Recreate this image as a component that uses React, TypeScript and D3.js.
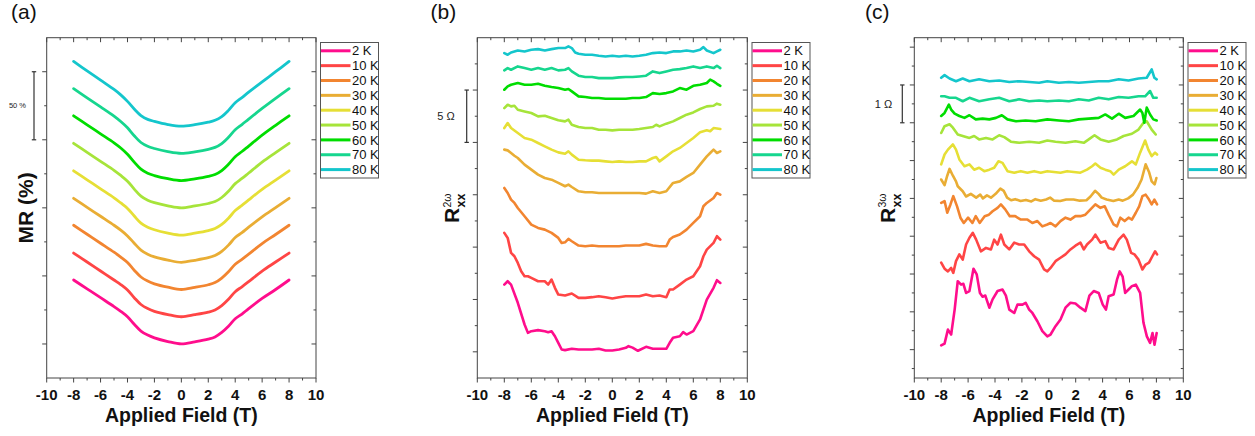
import React from 'react';
import * as d3 from 'd3';

// ---- data ----
const temps = ['2 K', '10 K', '20 K', '30 K', '40 K', '50 K', '60 K', '70 K', '80 K'];
const colors = ['#ff0d8c', '#ff4545', '#f28530', '#e9ad34', '#e6df35', '#a6e43a', '#00dd00', '#16d68e', '#14c6cc'];

const fieldMajor = [-10, -8, -6, -4, -2, 0, 2, 4, 6, 8, 10];
const fieldMinor = [-9, -7, -5, -3, -1, 1, 3, 5, 7, 9];

// (a) magnetoresistance, %, curves shifted by offsetsA
const fieldsA = [-8, -7, -6, -5, -4.5, -4, -3.5, -3, -2.5, -2, -1, 0, 1, 2, 2.5, 3, 3.5, 4, 4.5, 5, 6, 7, 8];
const mrA2K = [47.0, 40.5, 34.0, 27.5, 24.0, 20.0, 14.5, 9.5, 6.5, 4.5, 1.8, 0, 1.6, 3.6, 5.2, 8.5, 13.0, 18.5, 22.0, 26.0, 33.5, 40.0, 47.0];
const mrA10K = [46.8, 40.2, 33.6, 27.0, 23.6, 19.6, 14.0, 9.0, 6.0, 4.0, 1.6, 0, 1.5, 3.4, 5.0, 8.2, 12.8, 18.4, 22.0, 25.8, 33.6, 40.2, 46.8];
const mrA20K = [47.2, 40.6, 34.0, 27.4, 23.8, 19.8, 14.2, 9.2, 6.2, 4.2, 1.7, 0, 1.6, 3.5, 5.1, 8.4, 13.0, 18.6, 22.2, 26.0, 33.8, 40.4, 47.2];
const mrA30K = [47.0, 40.4, 33.8, 27.2, 23.6, 19.4, 14.0, 9.0, 6.0, 4.0, 1.6, 0, 1.5, 3.4, 5.0, 8.0, 12.6, 18.2, 21.8, 25.8, 33.4, 40.2, 47.0];
const mrA40K = [47.2, 40.6, 34.0, 27.4, 23.6, 19.6, 14.0, 8.8, 5.8, 3.9, 1.5, 0, 1.4, 3.3, 4.8, 7.8, 12.4, 18.0, 21.8, 25.8, 33.6, 40.4, 47.2];
const mrA50K = [47.4, 40.8, 34.2, 27.6, 23.8, 19.6, 13.8, 8.6, 5.6, 3.8, 1.5, 0, 1.4, 3.2, 4.6, 7.6, 12.2, 17.8, 21.6, 25.6, 33.6, 40.6, 47.4];
const mrA60K = [47.6, 41.0, 34.4, 27.8, 24.0, 19.4, 13.6, 8.4, 5.4, 3.7, 1.4, 0, 1.3, 3.1, 4.5, 7.4, 12.0, 17.6, 21.4, 25.4, 33.4, 40.6, 47.6];
const mrA70K = [47.6, 40.8, 34.2, 27.4, 23.4, 18.8, 13.0, 8.0, 5.2, 3.6, 1.3, 0, 1.2, 3.0, 4.4, 7.2, 11.8, 17.4, 21.2, 25.2, 33.0, 40.4, 47.6];
const mrA80K = [47.6, 40.6, 33.8, 27.0, 23.0, 18.2, 12.6, 7.8, 5.0, 3.5, 1.2, 0, 1.1, 2.9, 4.3, 7.0, 11.6, 17.2, 21.0, 25.0, 32.6, 40.0, 47.6];
const offsetsA = [0, 20, 40, 60, 80, 100, 120, 140, 160];

// (b) second harmonic, ohm (already offset as plotted)
const r2w2K = [[-8, 6.42], [-7.75, 6.74], [-7.5, 6.42], [-7, 4.68], [-6.5, 2.61], [-6.25, 1.81], [-6, 1.97], [-5.5, 2.07], [-5, 1.97], [-4.75, 1.88], [-4.5, 1.97], [-4.25, 1.49], [-4, 0.86], [-3.75, 0.22], [-3.5, 0.16], [-3, 0.29], [-2.5, 0.22], [-2, 0.22], [-1.5, 0.22], [-1, 0.29], [-0.5, 0.13], [0, 0.13], [0.5, 0.22], [1, 0.38], [1.2, 0.54], [1.5, 0.4], [1.9, 0.1], [2.5, 0.48], [3, 0.29], [3.5, 0.29], [4, 0.29], [4.25, 0.86], [4.5, 1.34], [5, 1.49], [5.25, 1.88], [5.5, 1.65], [6, 1.97], [6.5, 3.09], [7, 4.99], [7.5, 6.11], [7.75, 6.84], [8, 6.58]];
const r2w10K = [[-8, 11.36], [-7.75, 10.88], [-7.5, 9.45], [-7.25, 9.13], [-7, 8.49], [-6.75, 7.7], [-6.5, 7.22], [-6.25, 7.22], [-6, 7.06], [-5.5, 6.74], [-5, 6.74], [-4.75, 6.42], [-4.5, 6.9], [-4.25, 6.11], [-4, 5.47], [-3.5, 5.38], [-3, 5.57], [-2.5, 5.15], [-2, 5.15], [-1.5, 5.22], [-1, 5.31], [-0.5, 5.22], [0, 5.09], [0.5, 5.22], [1, 5.31], [1.5, 5.31], [2, 5.31], [2.5, 5.47], [3, 5.31], [3.5, 5.38], [4, 5.22], [4.25, 5.95], [4.5, 5.95], [5, 6.42], [5.5, 6.9], [6, 7.22], [6.5, 8.17], [6.75, 9.13], [7, 9.76], [7.5, 10.4], [7.75, 11.04], [8, 10.72]];
const r2w20K = [[-8, 15.65], [-7.75, 15.17], [-7.5, 14.54], [-7.25, 14.22], [-7, 13.74], [-6.5, 12.95], [-6, 12.15], [-5.5, 11.83], [-5, 11.67], [-4.5, 11.36], [-4, 10.88], [-3.75, 10.4], [-3.5, 10.46], [-3.25, 10.78], [-3, 10.56], [-2.5, 10.15], [-2, 10.08], [-1.5, 10.15], [-1, 10.08], [-0.5, 10.08], [0, 10.08], [0.5, 10.08], [1, 10.15], [1.5, 10.15], [2, 10.15], [2.5, 10.31], [3, 10.15], [3.5, 10.08], [4, 10.08], [4.25, 10.72], [4.5, 10.97], [5, 11.2], [5.5, 11.67], [6, 12.31], [6.5, 12.95], [6.75, 13.9], [7, 14.22], [7.5, 14.69], [7.75, 15.17], [8, 15.01]];
const r2w30K = [[-8, 19.31], [-7.75, 19.24], [-7.5, 18.99], [-7.25, 18.73], [-7, 18.51], [-6.5, 17.88], [-6, 17.4], [-5.5, 16.92], [-5, 16.6], [-4.5, 16.44], [-4, 16.13], [-3.5, 15.81], [-3.25, 15.97], [-3, 15.74], [-2.5, 15.33], [-2, 15.24], [-1.5, 15.24], [-1, 15.17], [-0.5, 15.17], [0, 15.17], [0.5, 15.17], [1, 15.17], [1.5, 15.17], [2, 15.17], [2.5, 15.11], [3, 15.33], [3.5, 15.17], [4, 15.33], [4.5, 16.13], [5, 16.28], [5.5, 16.7], [6, 17.08], [6.5, 17.88], [7, 18.67], [7.25, 18.99], [7.5, 19.31], [7.75, 18.99], [8, 19.15]];
const r2w40K = [[-8, 21.37], [-7.75, 21.85], [-7.5, 21.37], [-7, 20.9], [-6.5, 20.42], [-6, 20.26], [-5.5, 19.94], [-5, 19.62], [-4.5, 19.31], [-4, 19.05], [-3.5, 18.92], [-3.25, 19.15], [-3, 18.83], [-2.5, 18.35], [-2, 18.29], [-1.5, 18.26], [-1, 18.26], [-0.5, 18.19], [0, 18.13], [0.5, 18.19], [1, 18.13], [1.5, 18.13], [2, 18.19], [2.5, 18.19], [3, 18.51], [3.25, 18.61], [3.5, 18.19], [4, 18.67], [4.5, 19.15], [5, 19.47], [5.5, 19.94], [6, 20.42], [6.5, 20.96], [7, 21.15], [7.25, 21.06], [7.5, 21.37], [8, 21.28]];
const r2w50K = [[-8, 23.28], [-7.75, 23.6], [-7.5, 23.44], [-7.25, 23.5], [-7, 23.12], [-6.5, 22.96], [-6, 22.81], [-5.5, 22.49], [-5, 22.55], [-4.5, 22.33], [-4, 22.11], [-3.5, 22.01], [-3.25, 22.17], [-3, 21.69], [-2.5, 21.47], [-2, 21.37], [-1.5, 21.37], [-1, 21.21], [-0.5, 21.21], [0, 21.15], [0.5, 21.21], [1, 21.21], [1.5, 21.21], [2, 21.28], [2.5, 21.37], [3, 21.47], [3.25, 21.69], [3.5, 21.53], [4, 21.79], [4.5, 22.01], [5, 22.33], [5.5, 22.65], [6, 22.86], [6.5, 23.19], [7, 23.44], [7.5, 23.5], [7.75, 23.7], [8, 23.6]];
const r2w60K = [[-8, 25.03], [-7.75, 25.35], [-7.5, 25.51], [-7, 25.67], [-6.5, 25.51], [-6, 25.51], [-5.5, 25.6], [-5, 25.41], [-4.5, 25.29], [-4, 25.19], [-3.5, 25.03], [-3.25, 25.1], [-3, 24.87], [-2.5, 24.4], [-2, 24.33], [-1.5, 24.24], [-1, 24.24], [-0.5, 24.17], [0, 24.17], [0.5, 24.17], [1, 24.17], [1.5, 24.24], [2, 24.24], [2.5, 24.33], [3, 24.71], [3.5, 24.62], [4, 24.71], [4.5, 24.87], [5, 25.19], [5.5, 25.03], [6, 25.41], [6.5, 25.51], [7, 25.67], [7.25, 25.99], [7.5, 25.83], [7.75, 25.6], [8, 25.41]];
const r2w70K = [[-8, 26.88], [-7.75, 27.1], [-7.5, 26.94], [-7, 27.26], [-6.5, 27.1], [-6, 26.94], [-5.5, 27.1], [-5, 26.94], [-4.5, 27.1], [-4, 26.88], [-3.5, 26.94], [-3.25, 27.1], [-3, 26.78], [-2.5, 26.37], [-2, 26.24], [-1.5, 26.24], [-1, 26.14], [-0.5, 26.14], [0, 26.14], [0.5, 26.21], [1, 26.24], [1.5, 26.24], [2, 26.3], [2.5, 26.37], [3, 26.78], [3.5, 26.62], [4, 26.78], [4.5, 26.94], [5, 27.0], [5.5, 27.1], [6, 27.26], [6.5, 27.1], [7, 27.26], [7.5, 27.1], [7.75, 27.32], [8, 27.1]];
const r2w80K = [[-8, 28.53], [-7.75, 28.37], [-7.5, 28.59], [-7, 28.78], [-6.5, 28.69], [-6, 28.85], [-5.5, 28.91], [-5, 28.78], [-4.5, 28.91], [-4, 29.01], [-3.5, 29.01], [-3.25, 29.17], [-3, 29.01], [-2.75, 28.59], [-2.5, 28.47], [-2, 28.37], [-1.5, 28.37], [-1, 28.28], [-0.5, 28.21], [0, 28.28], [0.5, 28.21], [1, 28.28], [1.5, 28.21], [2, 28.28], [2.5, 28.37], [3, 28.53], [3.5, 28.59], [4, 28.53], [4.5, 28.69], [5, 28.69], [5.5, 28.78], [6, 28.69], [6.5, 28.85], [6.75, 29.1], [7, 28.78], [7.5, 28.53], [7.75, 28.69], [8, 28.85]];

// (c) third harmonic, ohm (already offset as plotted)
const r3w2K = [[-8, 0.61], [-7.75, 0.66], [-7.5, 1.03], [-7.26, 0.9], [-7, 1.56], [-6.77, 2.31], [-6.52, 2.22], [-6.35, 2.24], [-6.15, 2.0], [-5.9, 2.05], [-5.6, 2.64], [-5.36, 2.49], [-5.12, 2.0], [-4.92, 1.9], [-4.72, 1.93], [-4.42, 1.61], [-4.18, 1.83], [-3.81, 2.05], [-3.44, 2.09], [-3.19, 1.93], [-2.94, 1.56], [-2.57, 1.47], [-2.33, 1.69], [-1.96, 1.69], [-1.72, 1.74], [-1.46, 1.56], [-1.22, 1.47], [-0.85, 1.25], [-0.48, 0.99], [-0.11, 0.85], [0.13, 0.9], [0.5, 1.12], [0.87, 1.3], [1.24, 1.61], [1.61, 1.74], [1.98, 1.72], [2.35, 1.61], [2.72, 1.52], [3.02, 1.93], [3.34, 2.05], [3.71, 2.0], [4.01, 1.69], [4.25, 1.56], [4.45, 1.91], [4.82, 1.96], [5.07, 2.35], [5.27, 2.57], [5.49, 2.43], [5.68, 2.0], [5.93, 2.09], [6.18, 2.18], [6.47, 2.22], [6.79, 2.0], [7.04, 1.21], [7.29, 0.85], [7.53, 0.68], [7.71, 0.94], [7.86, 0.63], [8.02, 0.94]];
const r3w10K = [[-8, 2.8], [-7.75, 2.64], [-7.5, 2.57], [-7.26, 2.66], [-7.1, 2.53], [-6.9, 2.84], [-6.65, 3.02], [-6.4, 2.88], [-6.15, 3.28], [-5.9, 3.46], [-5.65, 3.59], [-5.4, 3.41], [-5.05, 3.1], [-4.67, 3.19], [-4.3, 3.15], [-4.06, 3.41], [-3.81, 3.28], [-3.56, 3.54], [-3.31, 3.28], [-2.94, 3.15], [-2.57, 3.33], [-2.2, 3.28], [-1.83, 3.28], [-1.46, 3.1], [-1.09, 2.97], [-0.72, 2.88], [-0.35, 2.62], [-0.11, 2.57], [0.13, 2.66], [0.5, 2.84], [0.87, 2.93], [1.24, 3.02], [1.61, 3.15], [1.98, 3.25], [2.35, 3.33], [2.6, 3.15], [2.84, 3.28], [3.22, 3.41], [3.46, 3.54], [3.84, 3.33], [4.2, 3.37], [4.45, 3.19], [4.82, 3.15], [5.2, 3.41], [5.56, 3.54], [5.8, 3.41], [6.12, 3.06], [6.37, 3.02], [6.67, 2.88], [6.96, 2.62], [7.2, 2.75], [7.45, 2.8], [7.7, 2.97], [7.9, 3.1], [8.05, 3.02]];
const r3w20K = [[-8, 4.38], [-7.75, 4.43], [-7.55, 4.12], [-7.31, 4.34], [-7.1, 4.56], [-6.82, 4.29], [-6.57, 3.99], [-6.32, 3.85], [-6.0, 3.99], [-5.68, 3.85], [-5.43, 4.03], [-5.14, 3.85], [-4.77, 4.03], [-4.45, 4.07], [-4.18, 4.16], [-3.81, 4.25], [-3.56, 4.34], [-3.24, 4.21], [-2.9, 4.03], [-2.5, 4.03], [-2.08, 3.94], [-1.59, 3.94], [-1.22, 3.85], [-0.85, 3.9], [-0.48, 3.76], [-0.11, 3.81], [0.13, 3.85], [0.5, 3.76], [0.87, 3.9], [1.24, 3.99], [1.61, 3.94], [1.98, 4.03], [2.35, 4.03], [2.72, 4.07], [3.1, 4.21], [3.46, 4.34], [3.84, 4.25], [4.16, 4.29], [4.45, 4.07], [4.82, 3.81], [5.07, 3.76], [5.32, 3.99], [5.64, 3.9], [5.93, 3.99], [6.18, 3.94], [6.47, 4.12], [6.72, 4.29], [6.96, 4.56], [7.2, 4.6], [7.45, 4.47], [7.65, 4.34], [7.85, 4.47], [8.05, 4.34]];
const r3w30K = [[-8, 5.0], [-7.75, 4.85], [-7.55, 5.1], [-7.38, 5.28], [-7.13, 5.1], [-6.9, 4.95], [-6.77, 4.82], [-6.4, 4.69], [-6.15, 4.55], [-5.8, 4.62], [-5.4, 4.52], [-5.1, 4.6], [-4.9, 4.5], [-4.6, 4.58], [-4.3, 4.52], [-3.95, 4.62], [-3.6, 4.76], [-3.35, 4.7], [-3.1, 4.52], [-2.8, 4.45], [-2.5, 4.48], [-2.1, 4.43], [-1.7, 4.46], [-1.3, 4.42], [-1.0, 4.48], [-0.6, 4.44], [-0.2, 4.47], [0.1, 4.52], [0.4, 4.44], [0.85, 4.43], [1.3, 4.47], [1.84, 4.47], [2.3, 4.44], [2.8, 4.45], [3.1, 4.55], [3.44, 4.7], [3.7, 4.62], [3.93, 4.52], [4.3, 4.47], [4.8, 4.43], [5.2, 4.47], [5.5, 4.44], [5.9, 4.5], [6.26, 4.6], [6.6, 4.78], [6.9, 5.0], [7.2, 5.4], [7.45, 5.2], [7.65, 4.95], [7.87, 4.87], [8.0, 5.04]];
const r3w40K = [[-8, 5.4], [-7.75, 5.66], [-7.5, 5.79], [-7.13, 5.93], [-6.9, 5.79], [-6.65, 5.53], [-6.27, 5.35], [-5.9, 5.4], [-5.55, 5.26], [-5.18, 5.31], [-4.8, 5.22], [-4.42, 5.26], [-4.06, 5.31], [-3.74, 5.48], [-3.44, 5.44], [-3.07, 5.22], [-2.57, 5.18], [-2.08, 5.22], [-1.59, 5.18], [-1.09, 5.22], [-0.6, 5.18], [-0.11, 5.22], [0.38, 5.2], [0.87, 5.18], [1.36, 5.22], [1.85, 5.2], [2.35, 5.18], [2.84, 5.26], [3.22, 5.35], [3.46, 5.42], [3.84, 5.31], [4.2, 5.26], [4.57, 5.22], [4.82, 5.13], [5.2, 5.26], [5.68, 5.35], [6.18, 5.48], [6.47, 5.4], [6.79, 5.71], [7.16, 6.03], [7.4, 5.79], [7.65, 5.62], [7.9, 5.71], [8.05, 5.66]];
const r3w50K = [[-8, 6.23], [-7.75, 6.41], [-7.38, 6.46], [-7.13, 6.37], [-6.77, 6.19], [-6.4, 6.15], [-5.9, 6.1], [-5.55, 6.15], [-5.18, 6.06], [-4.67, 6.1], [-4.18, 6.06], [-3.69, 6.17], [-3.31, 6.12], [-2.82, 6.0], [-2.2, 5.97], [-1.46, 6.0], [-0.72, 5.97], [-0.11, 6.03], [0.5, 6.0], [1.24, 5.97], [1.98, 6.01], [2.6, 5.97], [2.97, 6.06], [3.4, 6.17], [3.84, 6.06], [4.45, 6.0], [5.07, 6.06], [5.56, 6.15], [6.18, 6.21], [6.67, 6.32], [7.04, 6.5], [7.28, 6.54], [7.65, 6.32], [7.95, 6.19]];
const r3w60K = [[-8, 6.68], [-7.75, 6.76], [-7.43, 6.98], [-7.26, 6.85], [-7.0, 6.74], [-6.65, 6.68], [-6.27, 6.63], [-5.9, 6.7], [-5.43, 6.59], [-4.92, 6.61], [-4.42, 6.59], [-3.93, 6.63], [-3.49, 6.7], [-3.07, 6.59], [-2.45, 6.54], [-1.72, 6.56], [-0.98, 6.54], [-0.11, 6.59], [0.75, 6.56], [1.49, 6.54], [2.23, 6.59], [2.97, 6.61], [3.71, 6.63], [4.2, 6.72], [4.7, 6.61], [5.2, 6.74], [5.68, 6.63], [6.3, 6.68], [6.79, 6.85], [6.96, 6.76], [7.1, 6.5], [7.28, 6.9], [7.53, 6.72], [7.77, 6.59], [8.02, 6.56]];
const r3w70K = [[-8, 7.2], [-7.75, 7.2], [-7.38, 7.16], [-6.9, 7.16], [-6.4, 7.07], [-5.9, 7.16], [-5.18, 7.07], [-4.42, 7.12], [-3.69, 7.16], [-2.94, 7.07], [-2.2, 7.12], [-1.46, 7.07], [-0.72, 7.09], [-0.11, 7.07], [0.75, 7.09], [1.49, 7.07], [2.23, 7.12], [2.97, 7.09], [3.71, 7.16], [4.45, 7.12], [5.2, 7.18], [5.93, 7.16], [6.67, 7.2], [7.16, 7.2], [7.53, 7.34], [7.77, 7.16], [8.02, 7.16]];
const r3w80K = [[-8, 7.69], [-7.75, 7.76], [-7.38, 7.67], [-6.9, 7.6], [-6.4, 7.67], [-5.9, 7.6], [-5.18, 7.65], [-4.42, 7.6], [-3.69, 7.62], [-2.94, 7.58], [-2.2, 7.6], [-1.46, 7.58], [-0.72, 7.56], [-0.11, 7.6], [0.75, 7.56], [1.49, 7.58], [2.23, 7.56], [2.97, 7.58], [3.71, 7.6], [4.45, 7.6], [5.2, 7.65], [5.93, 7.62], [6.67, 7.67], [7.28, 7.69], [7.65, 7.91], [7.85, 7.69], [8.02, 7.65]];

const yMajorA = [0, 50, 100, 150, 200];
const yMinorA = [25, 75, 125, 175];
const yMajorB = [0, 5, 10, 15, 20, 25];
const yMinorB = [2.5, 7.5, 12.5, 17.5, 22.5, 27.5];
const yMajorC = [0.5, 1.5, 2.5, 3.5, 4.5, 5.5, 6.5, 7.5, 8.5];
const yMinorC = [0, 1, 2, 3, 4, 5, 6, 7, 8];

const FONT = "Arial, 'Liberation Sans', Helvetica, sans-serif";
const TOP = 37.7;
const BOTTOM = 378;
const AXIS = '#444';

type Pt = [number, number];

const seriesA: Pt[][] = [mrA2K, mrA10K, mrA20K, mrA30K, mrA40K, mrA50K, mrA60K, mrA70K, mrA80K].map((mr, k) =>
  fieldsA.map((f, i) => [f, mr[i] + offsetsA[k]] as Pt)
);
const seriesB = [r2w2K, r2w10K, r2w20K, r2w30K, r2w40K, r2w50K, r2w60K, r2w70K, r2w80K] as Pt[][];
const seriesC = [r3w2K, r3w10K, r3w20K, r3w30K, r3w40K, r3w50K, r3w60K, r3w70K, r3w80K] as Pt[][];

interface PanelCfg {
  left: number;
  right: number;
  yDomain: [number, number];
  yMajor: number[];
  yMinor: number[];
  series: Pt[][];
  smooth: boolean;
  strokeWidth: number;
  tag: string;
  tagX: number;
  bar: { x: number; from: number; to: number; text: string; tx: number; size: number };
  legendX: number;
  ylabel: { x: number; sup?: string };
}

const panels: PanelCfg[] = [
  {
    left: 46.7, right: 316, yDomain: [-25, 225], yMajor: yMajorA, yMinor: yMinorA, series: seriesA,
    smooth: true, strokeWidth: 2.8, tag: '(a)', tagX: 11,
    bar: { x: 34, from: 150, to: 200, text: '50 %', tx: 17.5, size: 7.5 },
    legendX: 320.5, ylabel: { x: 32.5 },
  },
  {
    left: 477.3, right: 747.3, yDomain: [-2.5, 30], yMajor: yMajorB, yMinor: yMinorB, series: seriesB,
    smooth: false, strokeWidth: 2.6, tag: '(b)', tagX: 430.5,
    bar: { x: 466.7, from: 20, to: 25, text: '5 Ω', tx: 446, size: 11 },
    legendX: 752, ylabel: { x: 459, sup: '2ω' },
  },
  {
    left: 914.3, right: 1183.3, yDomain: [-0.25, 8.75], yMajor: yMajorC, yMinor: yMinorC, series: seriesC,
    smooth: false, strokeWidth: 2.6, tag: '(c)', tagX: 865,
    bar: { x: 902.3, from: 6.5, to: 7.5, text: '1 Ω', tx: 883.5, size: 11 },
    legendX: 1188, ylabel: { x: 894.5, sup: '3ω' },
  },
];

function Panel({ cfg }: { cfg: PanelCfg }) {
  const x = d3.scaleLinear().domain([-10, 10]).range([cfg.left, cfg.right]);
  const y = d3.scaleLinear().domain(cfg.yDomain).range([BOTTOM, TOP]);
  const line = d3
    .line<Pt>()
    .x((d) => x(d[0]))
    .y((d) => y(d[1]))
    .curve(cfg.smooth ? d3.curveCatmullRom.alpha(0.5) : d3.curveLinear);

  const midY = (TOP + BOTTOM) / 2;
  const cx = (cfg.left + cfg.right) / 2;
  const b = cfg.bar;
  const y0 = y(b.from);
  const y1 = y(b.to);

  return (
    <g>
      {/* frame */}
      <rect x={cfg.left} y={TOP} width={cfg.right - cfg.left} height={BOTTOM - TOP} fill="none" stroke={AXIS} strokeWidth={1} />

      {/* x ticks: bottom outward, top inward */}
      {fieldMajor.map((t) => (
        <g key={'xM' + t}>
          <line x1={x(t)} x2={x(t)} y1={BOTTOM} y2={BOTTOM + 4.5} stroke={AXIS} />
          <line x1={x(t)} x2={x(t)} y1={TOP} y2={TOP + 4.5} stroke={AXIS} />
          <text x={x(t)} y={399.5} textAnchor="middle" fontSize={15} fontWeight="bold" fontFamily={FONT} fill="#111">
            {t}
          </text>
        </g>
      ))}
      {fieldMinor.map((t) => (
        <g key={'xm' + t}>
          <line x1={x(t)} x2={x(t)} y1={BOTTOM} y2={BOTTOM + 2.5} stroke={AXIS} />
          <line x1={x(t)} x2={x(t)} y1={TOP} y2={TOP + 2.5} stroke={AXIS} />
        </g>
      ))}

      {/* y ticks: left outward, right inward */}
      {cfg.yMajor.map((t) => (
        <g key={'yM' + t}>
          <line x1={cfg.left - 4.5} x2={cfg.left} y1={y(t)} y2={y(t)} stroke={AXIS} />
          <line x1={cfg.right - 4.5} x2={cfg.right} y1={y(t)} y2={y(t)} stroke={AXIS} />
        </g>
      ))}
      {cfg.yMinor.map((t) => (
        <g key={'ym' + t}>
          <line x1={cfg.left - 2.5} x2={cfg.left} y1={y(t)} y2={y(t)} stroke={AXIS} />
          <line x1={cfg.right - 2.5} x2={cfg.right} y1={y(t)} y2={y(t)} stroke={AXIS} />
        </g>
      ))}

      {/* curves */}
      {cfg.series.map((s, i) => (
        <path key={'s' + i} d={line(s) || ''} fill="none" stroke={colors[i]} strokeWidth={cfg.strokeWidth} strokeLinejoin="round" strokeLinecap="round" />
      ))}

      {/* scale bar */}
      <g stroke="#333" strokeWidth={1.2}>
        <line x1={b.x} x2={b.x} y1={y0} y2={y1} />
        <line x1={b.x - 2.2} x2={b.x + 2.2} y1={y0} y2={y0} />
        <line x1={b.x - 2.2} x2={b.x + 2.2} y1={y1} y2={y1} />
      </g>
      <text x={b.tx} y={(y0 + y1) / 2 + b.size * 0.36} textAnchor="middle" fontSize={b.size} fontFamily={FONT} fill="#222">
        {b.text}
      </text>

      {/* axis titles */}
      <text x={cx} y={422} textAnchor="middle" fontSize={19.5} fontWeight="bold" fontFamily={FONT} fill="#111">
        Applied Field (T)
      </text>
      {cfg.ylabel.sup ? (
        <g transform={`translate(${cfg.ylabel.x},223) rotate(-90)`} fontFamily={FONT} fill="#111">
          <text x={0} y={0} fontSize={21} fontWeight="bold">R</text>
          <text x={15.5} y={-8.5} fontSize={10.5}>{cfg.ylabel.sup}</text>
          <text x={15.5} y={6} fontSize={12.5} fontWeight="bold">xx</text>
        </g>
      ) : (
        <text transform={`translate(${cfg.ylabel.x},${midY}) rotate(-90)`} textAnchor="middle" fontSize={21} fontWeight="bold" fontFamily={FONT} fill="#111">
          MR (%)
        </text>
      )}

      {/* panel tag */}
      <text x={cfg.tagX} y={18.5} fontSize={21} fontFamily={FONT} fill="#111">
        {cfg.tag}
      </text>

      {/* legend */}
      <rect x={cfg.legendX} y={42.5} width={58} height={135.5} fill="#fff" stroke="#555" strokeWidth={1} />
      {temps.map((t, i) => {
        const ly = 50.8 + i * 14.85;
        return (
          <g key={'l' + t}>
            <line x1={cfg.legendX + 0.5} x2={cfg.legendX + 30} y1={ly} y2={ly} stroke={colors[i]} strokeWidth={3} />
            <text x={cfg.legendX + 31.5} y={ly + 4.6} fontSize={13} fontFamily={FONT} fill="#111">
              {t}
            </text>
          </g>
        );
      })}
    </g>
  );
}

export default function App() {
  return (
    <svg width={1255} height={436} style={{ position: 'absolute', left: 0, top: 0, background: '#fff' }}>
      <rect width={1255} height={436} fill="#fff" />
      {panels.map((p) => (
        <Panel key={p.tag} cfg={p} />
      ))}
    </svg>
  );
}
